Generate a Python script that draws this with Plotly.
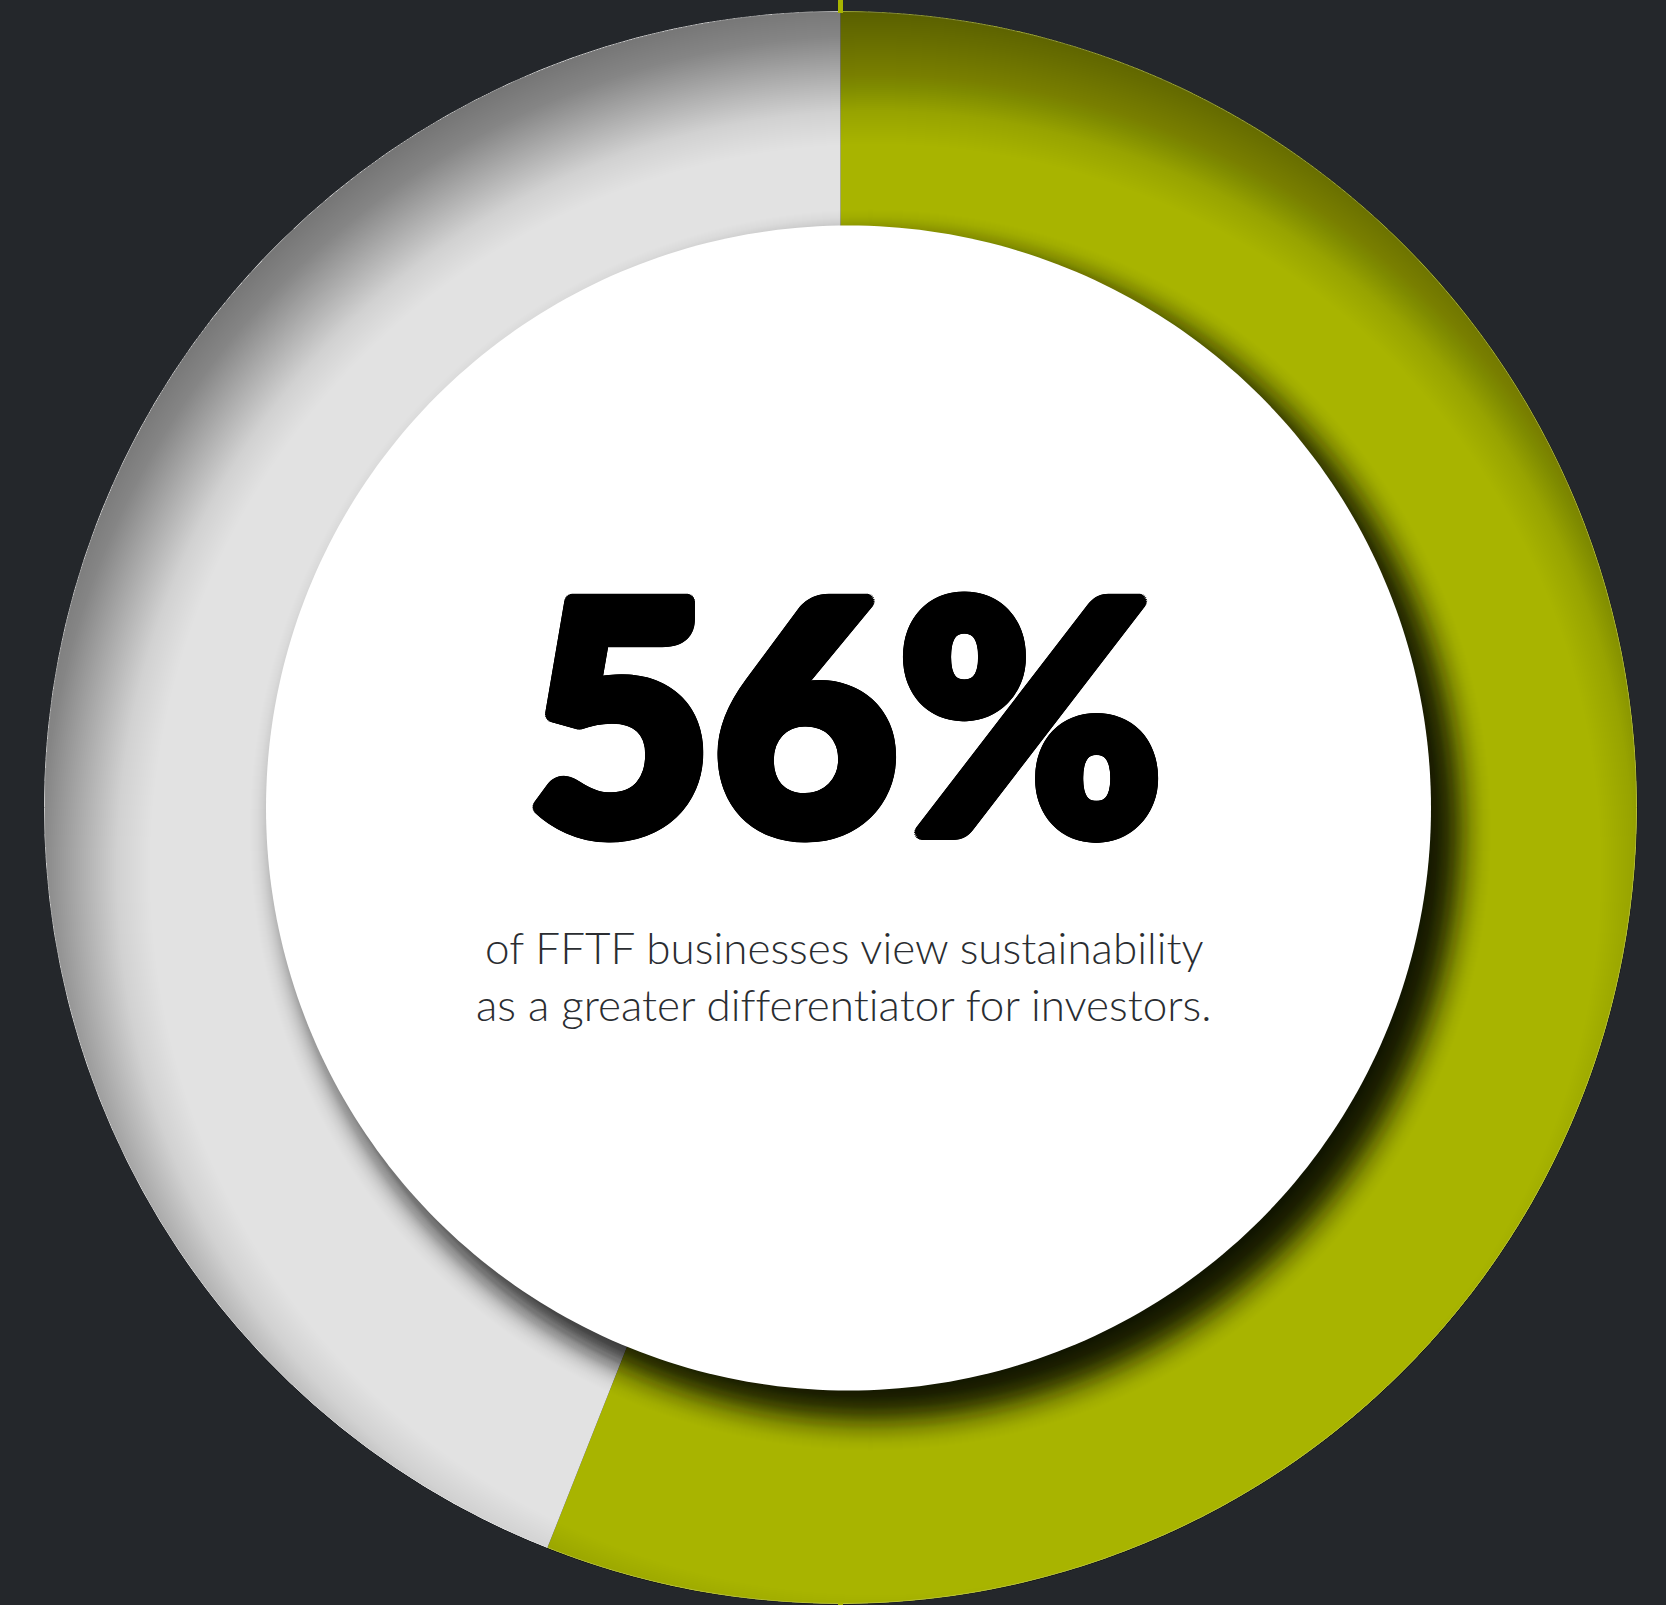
import numpy as np
from statistics import NormalDist
import plotly.graph_objects as go

W, H = 1666, 1605

# Survey split: businesses that see sustainability as a bigger investor differentiator
labels = ["Greater differentiator for investors", "Other FFTF businesses"]
values = [56, 44]
colors = ["#a8b400", "#e2e2e2"]

headline = "56%"
caption_lines = [
    "of FFTF businesses view sustainability",
    "as a greater differentiator for investors.",
]

BG = "#24272b"

# Geometry in page pixels
RING_CX, RING_CY, RING_R = 840.5, 807.5, 796.5
DISC_CX, DISC_CY, DISC_R = 848.5, 808.0, 582.5


def px(x):
    return x / W


def py(y):
    return 1 - y / H


def circle_path(cx, cy, r, n=240):
    t = np.linspace(0, 2 * np.pi, n, endpoint=False)
    pts = [f"{px(cx + r * np.cos(a)):.5f},{py(cy + r * np.sin(a)):.5f}" for a in t]
    return "M" + "L".join(pts) + "Z"


def blur_layers(sigma, step, max_dark):
    """Radius offsets and per-layer alphas approximating a gaussian-blurred edge."""
    nd = NormalDist(0, sigma)
    span = 2.6 * sigma
    offs = np.arange(-span, span + 1e-9, step)
    w = np.array([nd.pdf(o) for o in offs])
    w /= w.sum()
    k = -np.log(1 - max_dark)
    alphas = 1 - np.exp(-k * w)
    return list(zip(offs, alphas))


def plain(text):
    # keep "ff"/"ti" as separate glyphs (zero-width non-joiner between them)
    return text.replace("ff", "f\u200cf").replace("ti", "t\u200ci")


fig = go.Figure()

fig.add_trace(
    go.Pie(
        labels=labels,
        values=values,
        marker=dict(colors=colors, line=dict(width=0)),
        hole=0.70,
        sort=False,
        direction="clockwise",
        rotation=0,
        textinfo="none",
        hoverinfo="skip",
        showlegend=False,
        domain=dict(
            x=[px(RING_CX - RING_R), px(RING_CX + RING_R)],
            y=[py(RING_CY + RING_R), py(RING_CY - RING_R)],
        ),
    )
)

shapes = []
outer = circle_path(RING_CX, RING_CY, RING_R)

# Inset shading along the outer rim (heaviest at the top-left)
off_x, off_y = 35, 62
for d, a in blur_layers(sigma=42, step=2.0, max_dark=0.37):
    shapes.append(
        dict(
            type="path",
            path=outer + " " + circle_path(RING_CX + off_x, RING_CY + off_y, RING_R + d),
            xref="paper", yref="paper",
            fillcolor=f"rgba(0,0,0,{a:.6f})",
            fillrule="evenodd",
            line=dict(width=0),
            layer="above",
        )
    )

# Soft drop shadow cast by the centre disc onto the ring
sh_x, sh_y = 22, 22
for d, a in blur_layers(sigma=16, step=1.0, max_dark=0.76):
    shapes.append(
        dict(
            type="path",
            path=circle_path(DISC_CX + sh_x, DISC_CY + sh_y, DISC_R + d),
            xref="paper", yref="paper",
            fillcolor=f"rgba(0,0,0,{a:.6f})",
            line=dict(width=0),
            layer="above",
        )
    )

# White centre disc
shapes.append(
    dict(
        type="path",
        path=circle_path(DISC_CX, DISC_CY, DISC_R, n=360),
        xref="paper", yref="paper",
        fillcolor="#ffffff",
        line=dict(width=0),
        layer="above",
    )
)

# Keep the shading inside the ring
frame = f"M{px(-20)},{py(-20)}L{px(W + 20)},{py(-20)}L{px(W + 20)},{py(H + 20)}L{px(-20)},{py(H + 20)}Z"
shapes.append(
    dict(
        type="path",
        path=frame + " " + circle_path(RING_CX, RING_CY, RING_R + 0.3, n=360),
        xref="paper", yref="paper",
        fillcolor=BG,
        fillrule="evenodd",
        line=dict(width=0),
        layer="above",
    )
)

# Faint highlight on the ring edge
shapes.append(
    dict(
        type="path",
        path=circle_path(RING_CX, RING_CY, RING_R - 0.5, n=360),
        xref="paper", yref="paper",
        fillcolor="rgba(0,0,0,0)",
        line=dict(color="rgba(255,255,255,0.22)", width=1),
        layer="above",
    )
)

# Start marker at 12 o'clock
for y0, y1 in [(0, RING_CY - RING_R + 2), (RING_CY + RING_R - 2, H)]:
    shapes.append(
        dict(
            type="line",
            x0=px(RING_CX), x1=px(RING_CX), y0=py(y0), y1=py(y1),
            xref="paper", yref="paper",
            line=dict(color=colors[0], width=5),
            layer="above",
        )
    )

# Heavy outline around the headline digits
stroke = 7
rings = []
for rad in (stroke, stroke * 0.5):
    for ang in np.linspace(0, 2 * np.pi, 24, endpoint=False):
        rings.append(f"{rad * np.cos(ang):.2f}px {rad * np.sin(ang):.2f}px 0 #000")
heavy_shadow = ", ".join(rings)

annotations = [
    dict(
        text=headline,
        x=px(845), y=py(709),
        xref="paper", yref="paper",
        xanchor="center", yanchor="middle",
        showarrow=False,
        font=dict(family="Lato", size=320, color="#000000", weight=900,
                  shadow=heavy_shadow),
    )
]
cap_size = 44
for line, base in zip(caption_lines, [962, 1019]):
    annotations.append(
        dict(
            text=plain(line),
            x=px(844), y=py(base - 0.35 * cap_size),
            xref="paper", yref="paper",
            xanchor="center", yanchor="middle",
            showarrow=False,
            font=dict(family="Lato", size=cap_size, color="#2a2d31", weight=300),
        )
    )

fig.update_layout(
    width=W,
    height=H,
    margin=dict(l=0, r=0, t=0, b=0),
    paper_bgcolor=BG,
    plot_bgcolor=BG,
    shapes=shapes,
    annotations=annotations,
    showlegend=False,
)

fig.write_html("out.html", config={"displayModeBar": False})
